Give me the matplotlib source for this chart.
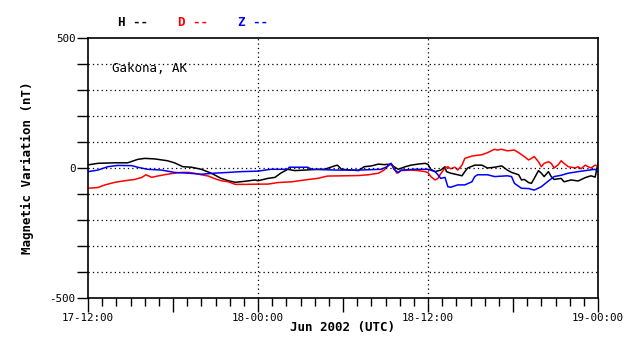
import pandas as pd
import matplotlib
matplotlib.use("Agg")
import matplotlib.pyplot as plt
import matplotlib.dates as mdates
from matplotlib.ticker import FixedLocator, FuncFormatter

# %%
START = pd.Timestamp("2002-06-17 12:00")
END = pd.Timestamp("2002-06-19 00:00")

# hours after 17-12:00 and nT
h_hours = [0, 0.7, 1.9, 2.8, 3.5, 4.0, 4.7, 5.6, 6.1, 6.7, 7.3, 8.0, 8.7, 9.4, 9.9, 10.4, 11.1, 11.8,
           12.0, 12.7, 13.2, 13.6, 14.1, 14.6, 15.3, 16.2, 16.7, 17.4, 17.6, 17.9, 18.6, 19.1, 19.5,
           20.0, 20.5, 20.9, 21.4, 21.6, 21.9, 22.4, 22.8, 23.3, 23.8, 24.0,
           24.2, 24.5, 24.9, 25.2, 25.3, 25.6, 26.1, 26.4, 26.6, 26.8, 27.3, 27.8, 28.2, 28.7, 29.2,
           29.6, 29.9, 30.4, 30.6, 30.8, 31.1, 31.3, 31.5, 31.8, 32.0, 32.2, 32.5, 32.7, 32.9, 33.4,
           33.6, 34.1, 34.6, 35.1, 35.5, 35.8, 36.0]
h_vals = [12, 18, 20, 20, 33, 37, 35, 28, 20, 5, 3, -5, -20, -40, -49, -55, -51, -46,
          -49, -40, -36, -20, -5, -10, -8, -5, -5, 8, 11, -5, -8, -10, 5,
          8, 15, 13, 15, 5, -5, 5, 11, 15, 18, 14,
          -5, -14, -8, 5, -14, -20, -26, -30, -14, 0, 11, 11, 0, 3, 8,
          -8, -17, -26, -46, -44, -56, -59, -40, -10, -20, -33, -14, -33, -44, -40,
          -53, -46, -50, -37, -30, -35, 18]

d_hours = [0, 0.7, 1.2, 1.9, 2.6, 3.3, 3.8, 4.1, 4.5, 4.9, 5.6, 6.1, 6.6, 7.1, 7.5, 8.0, 8.5, 8.9,
           9.4, 9.9, 10.4, 11.1, 12.0,
           12.7, 13.4, 14.4, 15.3, 16.2, 16.9, 18.1, 19.1, 19.8, 20.5, 20.9, 21.3, 21.5, 21.8, 22.1,
           22.8, 23.3, 23.8, 24.0,
           24.2, 24.5, 24.7, 24.9, 25.2, 25.4, 25.6, 25.9, 26.1, 26.4, 26.6, 27.1, 27.8, 28.2, 28.7,
           28.9, 29.2, 29.6, 30.1, 30.4, 30.8, 31.1, 31.3, 31.5, 31.8, 32.0, 32.2, 32.5, 32.7, 32.9,
           33.2, 33.4, 33.6, 33.9, 34.4, 34.6, 34.8, 35.1, 35.3, 35.5, 35.8, 36.0]
d_vals = [-78, -75, -65, -55, -49, -44, -36, -26, -36, -31, -24, -20, -17, -17, -20, -26, -31, -40,
          -49, -53, -63, -63, -62,
          -62, -56, -53, -46, -40, -31, -30, -29, -26, -20, -8, 15, 8, -20, -10,
          -8, -10, -14, -18,
          -33, -46, -40, -22, 0, 5, -3, 3, -8, 11, 37, 46, 51, 59, 72,
          69, 72, 66, 69, 59, 44, 31, 37, 44, 24, 5, 18, 24, 18, 0,
          13, 28, 18, 5, 0, 5, -3, 11, 5, 0, 11, 8]

z_hours = [0, 0.7, 1.4, 2.1, 3.1, 3.5, 4.2, 5.2, 6.1, 7.1, 8.0, 8.9, 9.9, 10.8, 12.0,
           12.9, 14.1, 14.2, 15.5, 15.8, 17.6, 19.1, 20.7, 21.1, 21.4, 21.6, 21.9, 22.1, 23.1, 24.0,
           24.5, 24.7, 24.9, 25.2, 25.4, 25.6, 26.1, 26.6, 27.1, 27.3, 27.5, 28.2, 28.7, 29.6, 29.9,
           30.1, 30.6, 31.1, 31.5, 32.0, 32.5, 32.9, 33.4, 33.9, 34.6, 35.1, 35.8, 36.0]
z_vals = [-14, -8, 5, 10, 9, 3, -5, -8, -17, -20, -24, -20, -17, -14, -12,
          -5, -5, 3, 3, -5, -8, -8, -5, 5, 18, -5, -18, -8, -5, -5,
          -14, -26, -40, -36, -72, -74, -65, -65, -53, -33, -26, -26, -33, -30, -33,
          -59, -78, -79, -85, -72, -50, -33, -28, -20, -14, -10, -5, -14]

series_names = ["H", "D", "Z"]
series_colors = ["black", "red", "blue"]
y_ticks = [-500, -400, -300, -200, -100, 0, 100, 200, 300, 400, 500]
y_labels = {-500: "-500", 0: "0", 500: "500"}

# %%
plt.rcParams["font.family"] = "DejaVu Sans Mono"
plt.rcParams["font.size"] = 7.8

fig = plt.figure(figsize=(6.38, 3.59), dpi=100)
ax = fig.add_axes([88 / 638, 61 / 359, 510 / 638, 260 / 359])

data = [(h_hours, h_vals), (d_hours, d_vals), (z_hours, z_vals)]
for (hrs, vals), col in zip(data, series_colors):
    t = START + pd.to_timedelta(hrs, unit="h")
    ax.plot(t, vals, color=col, lw=1.1)

ax.set_xlim(START, END)
ax.set_ylim(-500, 500)

dots = dict(color="black", lw=0.9, ls=(0, (1, 2.5)))
for v in y_ticks[1:-1]:
    ax.axhline(v, **dots)
for t in pd.date_range(START, END, freq="12h")[1:-1]:
    ax.axvline(t, **dots)

ax.yaxis.set_major_locator(FixedLocator(y_ticks))
ax.yaxis.set_major_formatter(FuncFormatter(lambda v, p: y_labels.get(int(round(v)), "")))
ax.tick_params(axis="y", direction="out", length=8, width=1, pad=1)

ax.xaxis.set_major_locator(mdates.HourLocator(byhour=[0, 6, 12, 18]))
ax.xaxis.set_minor_locator(mdates.HourLocator())


def fmt_x(v, p):
    d = mdates.num2date(v)
    if d.hour % 12:
        return ""
    return d.strftime("%d-%H:%M")


ax.xaxis.set_major_formatter(FuncFormatter(fmt_x))
ax.tick_params(axis="x", which="major", direction="out", length=10, width=1, pad=0.5)
ax.tick_params(axis="x", which="minor", direction="out", length=6, width=1)
for s in ax.spines.values():
    s.set_linewidth(1.2)

ax.set_xlabel("Jun 2002 (UTC)", fontweight="bold", fontsize=9, labelpad=-1)
ax.set_ylabel("Magnetic Variation (nT)", fontweight="bold", fontsize=9, labelpad=11)
ax.text(0.047, 0.87, "Gakona, AK", transform=ax.transAxes, fontsize=9)

for i, (name, col) in enumerate(zip(series_names, series_colors)):
    fig.text((118 + 60 * i) / 638, 1 - 23 / 359, name + " --", color=col,
             fontweight="bold", fontsize=9, va="center")

plt.savefig("out.png", dpi=100)
